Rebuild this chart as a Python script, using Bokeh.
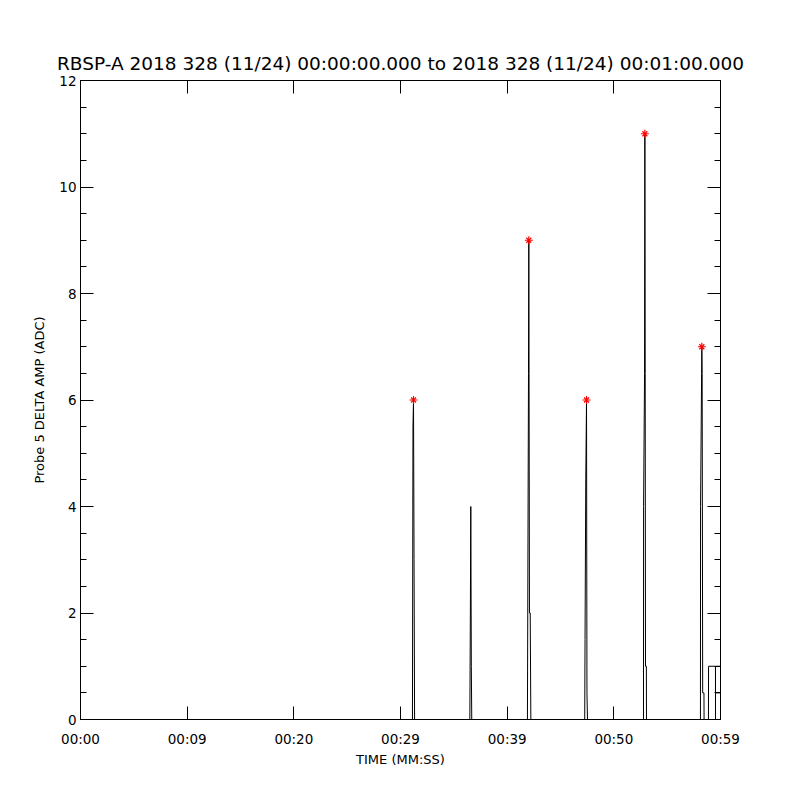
from bokeh.plotting import figure
from bokeh.models import LinearAxis, FixedTicker, Range1d, CustomLabelingPolicy
from bokeh.embed import file_html
from bokeh.resources import INLINE

# ---- data (seconds since 00:00:00, ADC value) ----
time_s = [0.0,
          31.12, 31.17, 31.22, 31.27, 31.32,
          36.50, 36.55, 36.59, 36.64, 36.68,
          41.90, 41.93, 42.00, 42.03, 42.09, 42.16, 42.22,
          47.27, 47.30, 47.37, 47.44, 47.48, 47.53,
          52.78, 52.79, 52.88, 52.91, 52.94, 52.97, 53.05, 53.06,
          58.12, 58.13, 58.23, 58.25, 58.28, 58.33, 58.45, 58.46,
          58.87, 58.88, 60.0, 60.0, 59.53, 59.53, 59.53, 60.0]
amp_adc = [0,
           0, 5.5, 6, 3, 0,
           0, 2, 4, 1, 0,
           0, 2, 6.5, 9, 2, 2, 0,
           0, 1.5, 4.5, 6, 0.5, 0,
           0, 4, 6.5, 11, 6.5, 1, 1, 0,
           0, 4, 6.5, 7, 6.5, 0.5, 0.5, 0,
           0, 1, 1, 0.5, 0.5, 1, 0, 0]

peak_t = [31.22, 42.03, 47.44, 52.91, 58.25]
peak_v = [6, 9, 6, 11, 7]

x_ticks = [0, 10, 20, 30, 40, 50, 60]
x_labels = ["00:00", "00:09", "00:20", "00:29", "00:39", "00:50", "00:59"]
y_ticks = [0, 2, 4, 6, 8, 10, 12]
y_minor = [i * 0.5 for i in range(25)]

title_text = "RBSP-A 2018 328 (11/24) 00:00:00.000 to 2018 328 (11/24) 00:01:00.000"
xlabel_text = "TIME (MM:SS)"
ylabel_text = "Probe 5 DELTA AMP (ADC)"

FONT = "DejaVu Sans"

p = figure(width=792, height=792, x_range=Range1d(0, 60), y_range=Range1d(0, 12),
           output_backend="svg", toolbar_location=None,
           min_border_left=80, min_border_right=72, min_border_top=80, min_border_bottom=73)
p.grid.visible = False
p.background_fill_color = "white"
p.border_fill_color = "white"
p.outline_line_color = "black"
p.outline_line_width = 1

p.title.text = title_text
p.title.align = "center"
p.title.text_font = FONT
p.title.text_font_size = "18.5px"
p.title.text_font_style = "normal"
p.title.text_color = "black"
p.title.standoff = -12

HIDE_LABELS = """
const all = Array.from(indices)
for (const i of all) indices.unset(i)
return indices
"""


def style_axis(ax, ticks, minor, labels=True, overrides=None):
    ax.ticker = FixedTicker(ticks=ticks, minor_ticks=minor)
    ax.axis_line_color = "black"
    ax.axis_line_width = 1
    ax.major_tick_in = 13
    ax.major_tick_out = 0
    ax.minor_tick_in = 6
    ax.minor_tick_out = 0
    ax.major_tick_line_color = "black"
    ax.minor_tick_line_color = "black"
    ax.major_label_text_font = FONT
    ax.major_label_text_font_size = "13.5px"
    ax.major_label_text_color = "black"
    if labels:
        if overrides:
            ax.major_label_overrides = overrides
    else:
        ax.major_label_policy = CustomLabelingPolicy(code=HIDE_LABELS)
        ax.major_label_standoff = 0


style_axis(p.xaxis[0], x_ticks, [], True, {t: l for t, l in zip(x_ticks, x_labels)})
p.xaxis[0].major_label_standoff = 11
p.xaxis[0].axis_label = xlabel_text
p.xaxis[0].axis_label_standoff = 2
p.xaxis[0].axis_label_text_font = FONT
p.xaxis[0].axis_label_text_font_size = "13px"
p.xaxis[0].axis_label_text_font_style = "normal"
p.xaxis[0].axis_label_text_color = "black"

style_axis(p.yaxis[0], y_ticks, y_minor, True)
p.yaxis[0].major_label_standoff = 4
p.yaxis[0].axis_label = ylabel_text
p.yaxis[0].axis_label_standoff = 9
p.yaxis[0].axis_label_text_font = FONT
p.yaxis[0].axis_label_text_font_size = "13px"
p.yaxis[0].axis_label_text_font_style = "normal"
p.yaxis[0].axis_label_text_color = "black"

top = LinearAxis()
style_axis(top, x_ticks, [], False)
p.add_layout(top, "above")
right = LinearAxis()
style_axis(right, y_ticks, y_minor, False)
p.add_layout(right, "right")

p.line(time_s, amp_adc, line_color="black", line_width=1)
p.scatter(peak_t, peak_v, marker="cross", size=8, line_color="red", line_width=1.2)
p.scatter(peak_t, peak_v, marker="x", size=7, line_color="red", line_width=1.2)

open("out.html", "w").write(file_html(p, INLINE))
